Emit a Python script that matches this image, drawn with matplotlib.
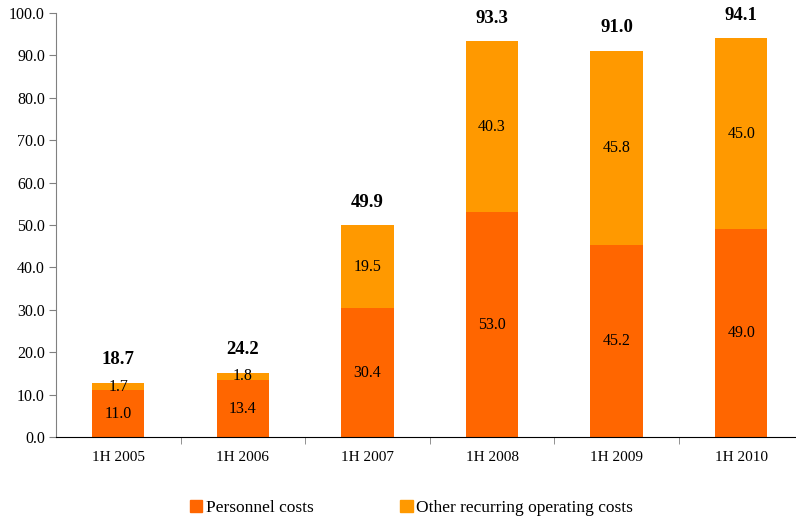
import matplotlib as mpl
import matplotlib.pyplot as plt
import matplotlib.patches as mpatches
import numpy as np

periods = ['1H 2005', '1H 2006', '1H 2007', '1H 2008', '1H 2009', '1H 2010']
personnel = [11.0, 13.4, 30.4, 53.0, 45.2, 49.0]
other = [1.7, 1.8, 19.5, 40.3, 45.8, 45.0]
totals = [18.7, 24.2, 49.9, 93.3, 91.0, 94.1]

mpl.rcParams['font.family'] = ['Liberation Serif', 'DejaVu Serif']

C_PERS = '#FF6600'
C_OTHER = '#FF9900'

fig = plt.figure(figsize=(7.96, 5.19), dpi=100)
ax = fig.add_axes([0.0704, 0.158, 0.9296, 0.817])

x = np.arange(len(periods))
w = 0.42
ax.bar(x, personnel, w, color=C_PERS, zorder=2)
ax.bar(x, other, w, bottom=personnel, color=C_OTHER, zorder=2)

for i in range(len(periods)):
    p, o = personnel[i], other[i]
    ax.text(x[i], p / 2, '%.1f' % p, ha='center', va='center', fontsize=11.5)
    ax.text(x[i], p + o / 2, '%.1f' % o, ha='center', va='center', fontsize=11.5)
    ax.text(x[i], p + o + 5.5, '%.1f' % totals[i], ha='center', va='center',
            fontsize=13.5, fontweight='bold')

ax.set_xlim(-0.5, 5.44)
ax.set_ylim(0, 100)
ax.set_yticks(np.arange(0, 101, 10))
ax.set_yticklabels(['%.1f' % v for v in np.arange(0, 101, 10)], fontsize=11.5)
ax.set_xticks(x)
ax.set_xticklabels(periods, fontsize=11)
ax.tick_params(axis='x', length=0, pad=10)
ax.set_xticks(np.arange(0.5, 5.5, 1), minor=True)
ax.tick_params(axis='x', which='minor', length=5, direction='out', color='#808080')
ax.tick_params(axis='y', length=5, direction='out', color='#808080', pad=3)

for s in ['top', 'right']:
    ax.spines[s].set_visible(False)
ax.spines['left'].set_color('#808080')
ax.spines['bottom'].set_color('black')

patch = [mpatches.Patch(color=C_PERS), mpatches.Patch(color=C_OTHER)]
fig.legend(patch, ['Personnel costs', 'Other recurring operating costs'],
           loc='center', bbox_to_anchor=(0.517, 0.022), ncol=2, frameon=False,
           fontsize=12.5, handlelength=0.7, handleheight=0.7, handletextpad=0.2,
           columnspacing=5.0)

fig.savefig('out.png', dpi=100)
